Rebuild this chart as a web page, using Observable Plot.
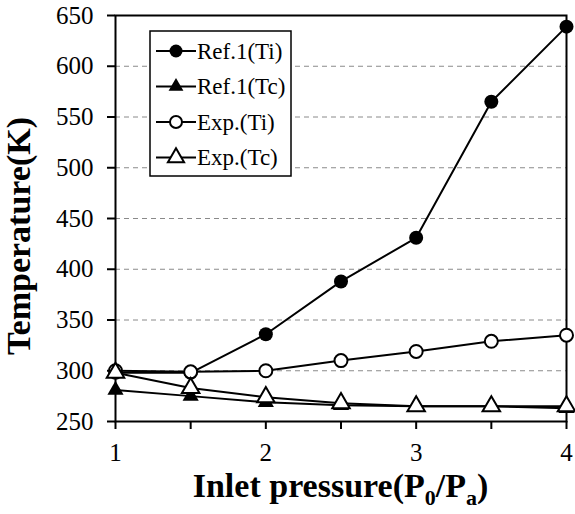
<!DOCTYPE html>
<html><head><meta charset="utf-8">
<script src="https://cdn.jsdelivr.net/npm/d3@7"></script>
<script src="https://cdn.jsdelivr.net/npm/@observablehq/plot@0.6"></script>
<style>body{margin:0;background:#fff} svg{display:block}</style>
</head><body><div id="chart"></div>
<script>
// ---- data ----
const pressure = [1, 1.5, 2, 2.5, 3, 3.5, 4];
const refTi = [298, 298, 336, 388, 431, 565, 639];
const refTc = [281, 275, 269, 266, 265, 265, 263];
const expTi = [300, 299, 300, 310, 319, 329, 335];
const expTc = [298, 283, 274, 268, 265, 265, 265];
const seriesNames = ["Ref.1(Ti)", "Ref.1(Tc)", "Exp.(Ti)", "Exp.(Tc)"];
const yTicks = [250, 300, 350, 400, 450, 500, 550, 600, 650];
const gridValues = [300, 350, 400, 450, 500, 550, 600];
const xTicks = [1, 1.5, 2, 2.5, 3, 3.5, 4];
const xTickLabels = ["1", "", "2", "", "3", "", "4"];

const seriesValues = [refTi, refTc, expTi, expTc];
const seriesStyle = [
  {symbol: "circle", fill: "black", r: 7, strokeWidth: 0},
  {symbol: "triangle", fill: "black", r: 6, strokeWidth: 0},
  {symbol: "circle", fill: "white", r: 6.5, strokeWidth: 2},
  {symbol: "triangle", fill: "white", r: 6.5, strokeWidth: 2}
];
const rows = seriesNames.map((name, s) =>
  pressure.map((p, i) => ({p, t: seriesValues[s][i], name})));

const seriesMarks = [];
rows.forEach((data, s) => {
  const st = seriesStyle[s];
  seriesMarks.push(Plot.line(data, {x: "p", y: "t", stroke: "black", strokeWidth: 2}));
  seriesMarks.push(Plot.dot(data, {x: "p", y: "t", symbol: () => st.symbol, r: st.r,
    fill: st.fill, stroke: "black", strokeWidth: st.strokeWidth}));
});

const font = "'Liberation Serif', 'Times New Roman', serif";
const chart = Plot.plot({
  width: 575, height: 514,
  marginLeft: 115, marginRight: 9, marginTop: 15, marginBottom: 93,
  style: {fontFamily: font, color: "black", background: "white"},
  x: {domain: [1, 4]},
  y: {domain: [250, 650]},
  symbol: {type: "identity"},
  marks: [
    Plot.ruleY(gridValues, {stroke: "#8a8a8a", strokeWidth: 1, strokeDasharray: "5,4"}),
    Plot.frame({stroke: "black", strokeWidth: 2}),
    Plot.axisX({ticks: xTicks, tickFormat: (d) => xTickLabels[xTicks.indexOf(d)], tickSize: 8, tickPadding: 14,
      fontSize: 25, strokeWidth: 2, label: null}),
    Plot.axisY({ticks: yTicks, tickSize: 8, tickPadding: 14, fontSize: 25, strokeWidth: 2, label: null}),
    ...seriesMarks
  ]
});
document.getElementById("chart").appendChild(chart);

const svg = d3.select(chart);

// x axis title with subscripts
const xt = svg.append("text").attr("x", 340.5).attr("y", 497).attr("text-anchor", "middle")
  .attr("font-family", font).attr("font-weight", "bold").attr("font-size", 34).attr("fill", "black");
xt.append("tspan").text("Inlet pressure(P");
xt.append("tspan").attr("dy", 8).attr("font-size", 22).text("0");
xt.append("tspan").attr("dy", -8).text("/P");
xt.append("tspan").attr("dy", 8).attr("font-size", 22).text("a");
xt.append("tspan").attr("dy", -8).text(")");

// y axis title
svg.append("text").attr("transform", "translate(30,236) rotate(-90)").attr("text-anchor", "middle")
  .attr("font-family", font).attr("font-weight", "bold").attr("font-size", 34).attr("fill", "black")
  .text("Temperature(K)");

// legend
const lg = svg.append("g");
lg.append("rect").attr("x", 150).attr("y", 31).attr("width", 141).attr("height", 145)
  .attr("fill", "white").attr("stroke", "black").attr("stroke-width", 1.5);
seriesNames.forEach((name, i) => {
  const cy = 51 + i * 35.5;
  const st = seriesStyle[i];
  lg.append("line").attr("x1", 156).attr("x2", 196).attr("y1", cy).attr("y2", cy)
    .attr("stroke", "black").attr("stroke-width", 2);
  const type = st.symbol === "circle" ? d3.symbolCircle : d3.symbolTriangle;
  const r = st.r - 0.5;
  lg.append("path").attr("d", d3.symbol().type(type).size(Math.PI * r * r)())
    .attr("transform", `translate(176,${cy})`).attr("fill", st.fill)
    .attr("stroke", "black").attr("stroke-width", st.strokeWidth);
  lg.append("text").attr("x", 197).attr("y", cy).attr("dy", "0.33em").attr("text-anchor", "start")
    .attr("font-family", font).attr("font-size", 23).attr("fill", "black").text(name);
});
</script>
</body></html>
